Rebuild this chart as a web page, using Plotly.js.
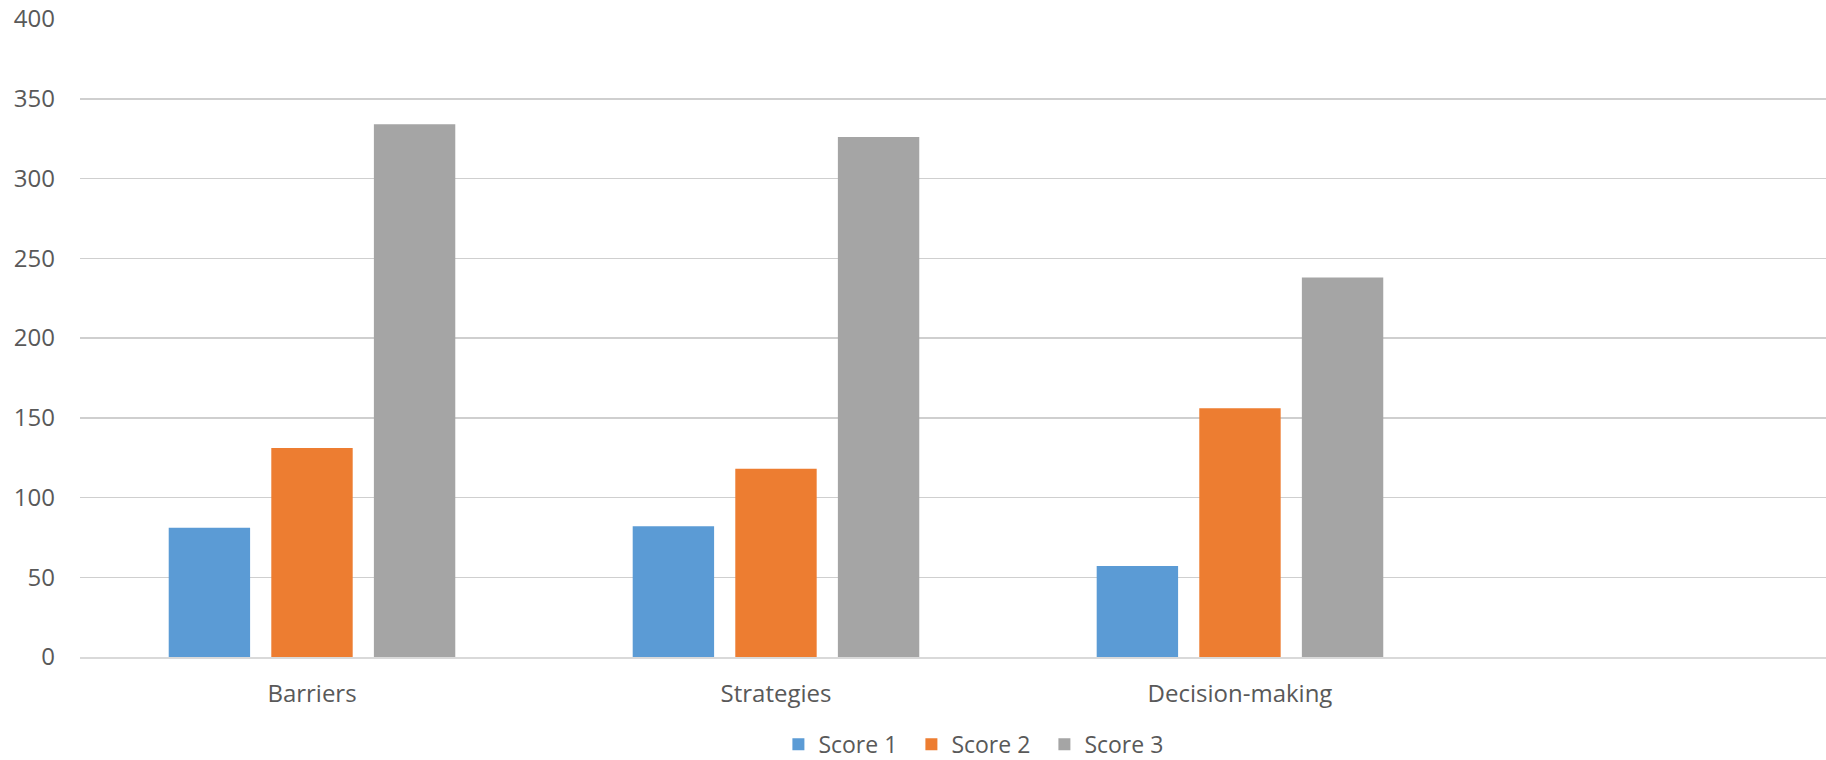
<!DOCTYPE html>
<html>
<head>
<meta charset="utf-8">
<script src="https://cdn.plot.ly/plotly-3.0.1.min.js"></script>
<style>
html,body{margin:0;padding:0;background:#fff;}
#chart{width:1826px;height:760px;}
</style>
</head>
<body>
<div id="chart"></div>
<script>
const categories = ["Barriers", "Strategies", "Decision-making"];
const seriesNames = ["Score 1", "Score 2", "Score 3"];
const score1 = [81, 82, 57];
const score2 = [131, 118, 156];
const score3 = [334, 326, 238];
const yTickValues = [0, 50, 100, 150, 200, 250, 300, 350, 400];

const colors = ["#5B9BD5", "#ED7D31", "#A5A5A5"];
const values = [score1, score2, score3];

const traces = values.map((v, i) => ({
  type: "bar",
  name: seriesNames[i],
  x: categories,
  y: v,
  marker: {color: colors[i], line: {width: 0}},
  hoverinfo: "x+y+name"
}));

const font = {family: "'Open Sans', 'DejaVu Sans', sans-serif", size: 24, color: "#595959"};

const layout = {
  width: 1826,
  height: 760,
  margin: {l: 80, r: 0, t: 19, b: 103, pad: 0, autoexpand: false},
  paper_bgcolor: "#ffffff",
  plot_bgcolor: "#ffffff",
  barmode: "group",
  bargap: 0.3367,
  bargroupgap: 0.2066,
  font: font,
  showlegend: true,
  legend: {
    orientation: "h",
    x: 0.400,
    xanchor: "left",
    y: -0.137,
    yanchor: "middle",
    font: {family: font.family, size: 23, color: "#595959"},
    itemwidth: 30,
    entrywidth: 88,
    entrywidthmode: "pixels",
    traceorder: "normal"
  },
  xaxis: {
    type: "category",
    range: [-0.5, 3.263],
    showgrid: false,
    zeroline: false,
    showline: true,
    linecolor: "#d9d9d9",
    linewidth: 2,
    ticks: "",
    ticklabelstandoff: 14,
    tickfont: font,
    fixedrange: true
  },
  yaxis: {
    range: [0, 400],
    tickvals: yTickValues,
    ticktext: yTickValues.map(String),
    showgrid: true,
    gridcolor: "#cfcfcf",
    gridwidth: 1.5,
    zeroline: false,
    showline: false,
    ticks: "",
    ticklabelstandoff: 24,
    tickfont: font,
    fixedrange: true
  }
};

Plotly.newPlot("chart", traces, layout, {displayModeBar: false, staticPlot: true});
</script>
</body>
</html>
